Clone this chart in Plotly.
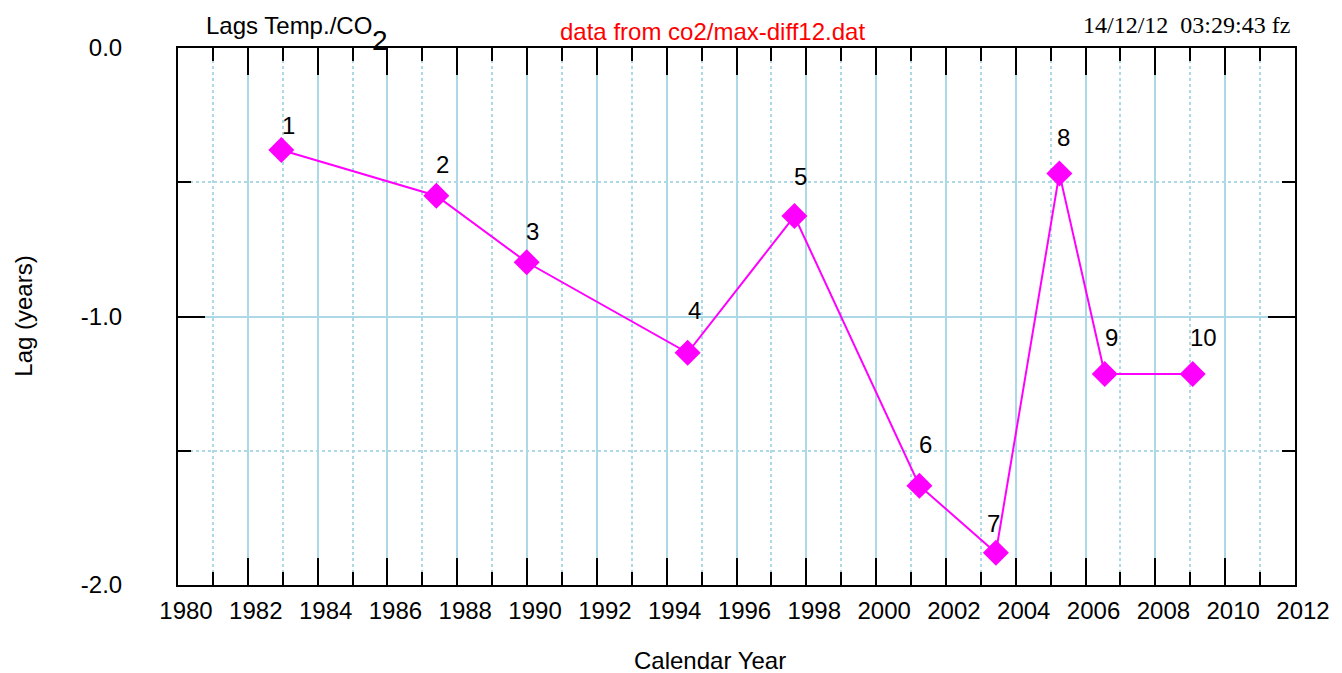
import plotly.graph_objects as go

# ---- data ----
years = [1982.96, 1987.40, 1989.99, 1994.60, 1997.66, 2001.24, 2003.43, 2005.25, 2006.55, 2009.07]
lags = [-0.380, -0.550, -0.798, -1.135, -0.626, -1.630, -1.880, -0.467, -1.214, -1.214]
point_labels = ["1", "2", "3", "4", "5", "6", "7", "8", "9", "10"]
x_tick_vals = list(range(1980, 2013, 2))
x_tick_text = [str(v) for v in x_tick_vals]
y_tick_vals = [0.0, -1.0, -2.0]
y_tick_text = ["0.0", "-1.0", "-2.0"]

# label placement styling (pixel offsets from each point)
label_dx = [7, 6, 6, 7, 6, 6, -2, 4, 7, 11]
label_dy = [25, 31, 31, 42, 40, 41, 29, 36, 36, 36]

W, H = 1342, 673
L, R, T, B = 178, 42, 48, 88
PW, PH = W - L - R, H - T - B

def px(x):
    return (x - L) / PW

def py(y):
    return (H - B - y) / PH

SANS = "Liberation Sans, Arial, sans-serif"
SERIF = "Liberation Serif, Times New Roman, serif"
MAG = "#ff00ff"
GRID = "#add8e6"
FS = 24

fig = go.Figure()
fig.add_trace(go.Scatter(
    x=years, y=lags, mode="lines+markers",
    line=dict(color=MAG, width=2),
    marker=dict(symbol="diamond", size=20, color=MAG, line=dict(width=0)),
    showlegend=False, hoverinfo="skip",
))

annotations = []
for xv, yv, t, dx, dy in zip(years, lags, point_labels, label_dx, label_dy):
    annotations.append(dict(
        x=xv, y=yv, xref="x", yref="y", text=t, showarrow=False,
        xanchor="center", yanchor="middle", xshift=dx, yshift=dy,
        font=dict(family=SANS, size=FS, color="black"),
    ))

# header texts
annotations += [
    dict(x=px(204), y=py(25.7), xref="paper", yref="paper", text="Lags Temp./CO",
         showarrow=False, xanchor="left", yanchor="middle",
         font=dict(family=SANS, size=FS, color="black")),
    dict(x=px(381), y=py(40.5), xref="paper", yref="paper", text="2",
         showarrow=False, xanchor="center", yanchor="middle",
         font=dict(family=SANS, size=28, color="black")),
    dict(x=px(714.5), y=py(31), xref="paper", yref="paper", text="data from co2/max-diff12.dat",
         showarrow=False, xanchor="center", yanchor="middle",
         font=dict(family=SANS, size=FS, color="#ff0000")),
    dict(x=px(1297), y=py(25), xref="paper", yref="paper",
         text="14/12/12\u00a0\u00a003:29:43 fz",
         showarrow=False, xanchor="right", yanchor="middle",
         font=dict(family=SERIF, size=24, color="black")),
    dict(x=px(22), y=py(316), xref="paper", yref="paper", text="Lag (years)",
         showarrow=False, xanchor="center", yanchor="middle", textangle=-90,
         font=dict(family=SANS, size=FS, color="black")),
    dict(x=px(712), y=py(660), xref="paper", yref="paper", text="Calendar Year",
         showarrow=False, xanchor="center", yanchor="middle",
         font=dict(family=SANS, size=FS, color="black")),
]

fig.update_layout(
    width=W, height=H,
    margin=dict(l=L, r=R, t=T, b=B, pad=0),
    paper_bgcolor="white", plot_bgcolor="white",
    annotations=annotations,
    xaxis=dict(
        range=[1980, 2012], tickmode="array", tickvals=x_tick_vals, ticktext=x_tick_text,
        ticks="inside", ticklen=27, tickwidth=2, tickcolor="black",
        showline=True, linecolor="black", linewidth=2, mirror="ticks",
        showgrid=True, gridcolor=GRID, gridwidth=2,
        zeroline=False,
        tickfont=dict(family=SANS, size=FS, color="black"),
        ticklabelstandoff=3, ticklabelshift=8,
        minor=dict(tickmode="linear", tick0=1981, dtick=2, ticks="inside", ticklen=13,
                   tickwidth=2, tickcolor="black", showgrid=True, gridcolor=GRID,
                   gridwidth=2, griddash="dot"),
    ),
    yaxis=dict(
        range=[-2, 0], tickmode="array", tickvals=y_tick_vals, ticktext=y_tick_text,
        ticks="inside", ticklen=27, tickwidth=2, tickcolor="black",
        showline=True, linecolor="black", linewidth=2, mirror="ticks",
        showgrid=True, gridcolor=GRID, gridwidth=2,
        zeroline=False,
        tickfont=dict(family=SANS, size=FS, color="black"),
        ticklabelstandoff=49,
        minor=dict(tickmode="linear", tick0=-0.5, dtick=1, ticks="inside", ticklen=13,
                   tickwidth=2, tickcolor="black", showgrid=True, gridcolor=GRID,
                   gridwidth=2, griddash="dot"),
    ),
)

fig.write_html(
    "out.html",
    config={"displayModeBar": False, "responsive": False},
    post_script="document.body.style.margin='0';document.body.style.overflow='hidden';"
                "document.documentElement.style.overflow='hidden';",
)
